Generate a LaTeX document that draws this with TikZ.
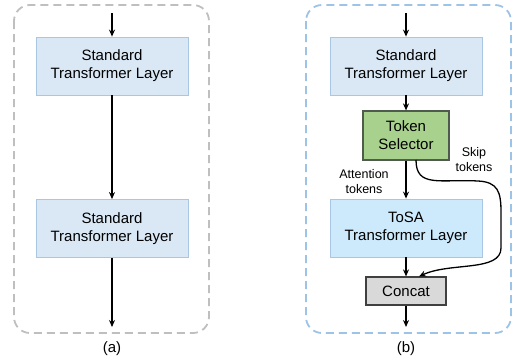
\documentclass[tikz,border=0pt]{standalone}
\usepackage{fontspec}
\setmainfont{Liberation Sans}
\usetikzlibrary{arrows.meta}

\definecolor{stdfill}{HTML}{DAE8F5}
\definecolor{stdline}{HTML}{A9C6E3}
\definecolor{tosafill}{HTML}{CDE9FC}
\definecolor{selfill}{HTML}{A9D18E}
\definecolor{selline}{HTML}{4F5B4C}
\definecolor{catfill}{HTML}{D9D9D9}
\definecolor{grayframe}{HTML}{BFBFBF}
\definecolor{blueframe}{HTML}{9DC3E6}

\tikzset{
  layer/.style={draw=stdline, fill=stdfill, line width=0.8pt, minimum width=152pt,
    minimum height=58pt, inner sep=0pt, align=center, font=\fontsize{15}{18}\selectfont},
  selbox/.style={draw=selline, fill=selfill, line width=1.2pt, minimum width=86pt,
    minimum height=49pt, inner sep=0pt, align=center, font=\fontsize{15}{18}\selectfont},
  catbox/.style={draw=black!75, fill=catfill, line width=1.2pt, minimum width=80pt,
    minimum height=28pt, inner sep=0pt, font=\fontsize{15}{18}\selectfont},
  frame/.style={line width=1.8pt, dash pattern=on 8pt off 5pt, rounded corners=16pt},
  flow/.style={-{Stealth[length=7pt,width=6pt]}, line width=1.3pt},
  small/.style={align=center, font=\fontsize{12.5}{15}\selectfont}
}

\begin{document}
\begin{tikzpicture}[x=1pt, y=-1pt]
\useasboundingbox (0,0) rectangle (513,362);

% (a) standard stack
\draw[frame, draw=grayframe] (14,5) rectangle (209,333);
\node[layer] (a1) at (112,66) {Standard\\Transformer Layer};
\node[layer] (a2) at (112,228.5) {Standard\\Transformer Layer};
\coordinate (ain) at (112,13);
\coordinate (aout) at (112,327);
\draw[flow] (ain) -- (a1);
\draw[flow] (a1) -- (a2);
\draw[flow] (a2) -- (aout);
\node[font=\fontsize{15}{18}\selectfont] (alab) at (112,349) {(a)};

% (b) with token selector
\draw[frame, draw=blueframe] (306,5) rectangle (511,333);
\node[layer] (b1) at (406,66) {Standard\\Transformer Layer};
\node[selbox] (sel) at (406,135.5) {Token\\Selector};
\node[layer, fill=tosafill] (tosa) at (406,228) {ToSA\\Transformer Layer};
\node[catbox] (cat) at (406,291) {Concat};
\coordinate (bin) at (406,13);
\coordinate (bout) at (406,327);
\coordinate (skip) at (416,160);
\coordinate (join) at (419,276.5);
\draw[flow] (bin) -- (b1);
\draw[flow] (b1) -- (sel);
\draw[flow] (sel) -- (tosa);
\draw[flow] (tosa) -- (cat);
\draw[flow] (cat) -- (bout);
\draw[flow] (skip) .. controls (416,188) and (440,179) .. (478,181)
  .. controls (498,182) and (501,192) .. (501,212) -- (501,248)
  .. controls (501,272) and (450,262) .. (join);
\node[small] (att) at (364,181.5) {Attention\\tokens};
\node[small] (skl) at (474,160) {Skip\\tokens};
\node[font=\fontsize{15}{18}\selectfont] (blab) at (406,349) {(b)};
\end{tikzpicture}
\end{document}
